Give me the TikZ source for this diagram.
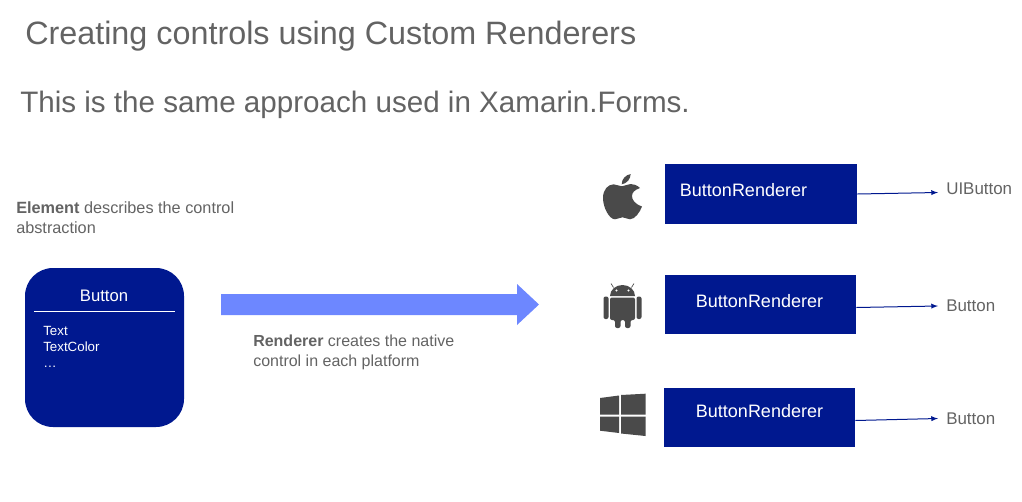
\documentclass[tikz,border=0pt]{standalone}
\usepackage{fontspec}
\setmainfont{Liberation Sans}
\definecolor{boxblue}{HTML}{00188F}
\definecolor{arrowblue}{HTML}{6D87FF}
\definecolor{textgray}{HTML}{636363}
\definecolor{logogray}{HTML}{4A4A4A}
\tikzset{
	rendererbox/.style={fill=boxblue, inner sep=0pt},
	whitetext/.style={text=white, inner sep=0pt, anchor=base},
	graytext/.style={text=textgray, inner sep=0pt, anchor=base west, align=left},
	nativetext/.style={text=textgray, font=\fontsize{12.7}{15}\selectfont, inner xsep=6pt, inner ysep=0pt, anchor=west},
	thinarrow/.style={draw=boxblue, -latex, line width=0.75pt},
}

\begin{document}
\begin{tikzpicture}[x=0.75pt, y=-0.75pt]
		%%%%% START %%%%%
		\useasboundingbox (0, 0) rectangle (1022, 501);
		
		\node[graytext, font=\fontsize{24.25}{30}\selectfont] (titleText) at (25, 44) {Creating controls using Custom Renderers};
		\node[graytext, font=\fontsize{22.2}{28}\selectfont] (subtitleText) at (20, 112) {This is the same approach used in Xamarin.Forms.};
		
		\node[graytext, font=\fontsize{12.2}{15}\selectfont] (elementText) at (16, 233) {\textbf{Element} describes the control\\abstraction};
		
		\node[rendererbox, rounded corners=21pt, minimum width=119.25pt, minimum height=119.25pt] (elementBox) at (104.5, 347.5) {};
		\node[whitetext, font=\fontsize{12.5}{15}\selectfont] (elementName) at (104, 301) {Button};
		\coordinate (ruleLeft) at (34, 311);
		\coordinate (ruleRight) at (175, 311);
		\draw[white, line width=0.75pt] (ruleLeft) -- (ruleRight);
		\node[whitetext, anchor=base west, align=left, font=\fontsize{10}{12}\selectfont] (elementProps) at (43, 367) {Text\\TextColor\\\ldots};
		
		\fill[arrowblue] (221, 294) -- (517, 294) -- (517, 284) -- (539, 304.5) -- (517, 325) -- (517, 315) -- (221, 315) -- cycle;
		
		\node[graytext, font=\fontsize{12}{15}\selectfont] (rendererText) at (253, 366) {\textbf{Renderer} creates the native\\control in each platform};
		
		% iOS
		\fill[logogray] (630.7, 174) .. controls (630.5, 179) and (627, 183.5) .. (621.7, 184.3) .. controls (621.7, 179) and (625.5, 175) .. (630.7, 174) -- cycle;
		\fill[logogray] (622, 186.3) .. controls (619, 186.3) and (616.5, 184.3) .. (613.5, 184.3) .. controls (608, 184.5) and (603, 189.5) .. (603, 198) .. controls (603, 207) and (609, 219.3) .. (615, 219.3) .. controls (618, 219.3) and (619.5, 217.3) .. (622.5, 217.3) .. controls (625.5, 217.3) and (627, 219.3) .. (630, 219.3) .. controls (635, 219.3) and (640, 212) .. (642, 206.5) .. controls (635, 204) and (632, 200) .. (632, 196) .. controls (632, 192.5) and (634.5, 190) .. (640, 188) .. controls (637, 185) and (633.5, 184) .. (630.5, 184) .. controls (627, 184) and (625, 186.3) .. (622, 186.3) -- cycle;
		
		\node[rendererbox, minimum width=144pt, minimum height=45pt] (iosBox) at (761, 194) {};
		\node[whitetext, font=\fontsize{13.5}{15}\selectfont] (iosText) at (743.5, 196) {ButtonRenderer};
		\node[nativetext] (iosNative) at (938, 188.5) {UIButton};
		\draw[thinarrow] (iosBox.east) -- ([yshift=-3pt]iosNative.west);
		
		% Android
		\fill[logogray] (610, 296) arc (180:360:12.5 and 11) -- cycle;
		\draw[logogray, line width=0.5pt] (613.5, 287.5) -- (611, 283.5) (631.5, 287.5) -- (634, 283.5);
		\fill[white] (616.5, 290.5) circle (1.2) (628.5, 290.5) circle (1.2);
		\fill[logogray, rounded corners=1.5pt] (610, 297.5) -- (635, 297.5) -- (635, 320) -- (630.5, 320) -- (630.5, 328) -- (625, 328) -- (625, 320) -- (620.5, 320) -- (620.5, 328) -- (615, 328) -- (615, 320) -- (610, 320) -- cycle;
		\fill[logogray, rounded corners=1.5pt] (603.5, 296.5) rectangle (608.5, 319);
		\fill[logogray, rounded corners=1.5pt] (636.5, 296.5) rectangle (641.5, 319);
		
		\node[rendererbox, minimum width=143.25pt, minimum height=44.25pt] (androidBox) at (760.5, 304.5) {};
		\node[whitetext, font=\fontsize{13.5}{15}\selectfont] (androidText) at (759.5, 307) {ButtonRenderer};
		\node[nativetext] (androidNative) at (938, 306) {Button};
		\draw[thinarrow] ([yshift=-2.25pt]androidBox.east) -- (androidNative.west);
		
		% Windows
		\fill[logogray] (600, 398) -- (619, 395.5) -- (619, 414.5) -- (600, 414.5) -- cycle;
		\fill[logogray] (621, 395) -- (645.5, 393.7) -- (645.5, 414.5) -- (621, 414.5) -- cycle;
		\fill[logogray] (600, 416.5) -- (619, 416.5) -- (619, 433) -- (600, 430.7) -- cycle;
		\fill[logogray] (621, 416.5) -- (645.5, 416.5) -- (645.5, 436) -- (621, 433.5) -- cycle;
		
		\node[rendererbox, minimum width=143.25pt, minimum height=44.25pt] (windowsBox) at (759.5, 417.5) {};
		\node[whitetext, font=\fontsize{13.5}{15}\selectfont] (windowsText) at (759.5, 417) {ButtonRenderer};
		\node[nativetext] (windowsNative) at (938, 418.5) {Button};
		\draw[thinarrow] ([yshift=-2.25pt]windowsBox.east) -- (windowsNative.west);
		%%%%% END %%%%%
	\end{tikzpicture}
\end{document}
